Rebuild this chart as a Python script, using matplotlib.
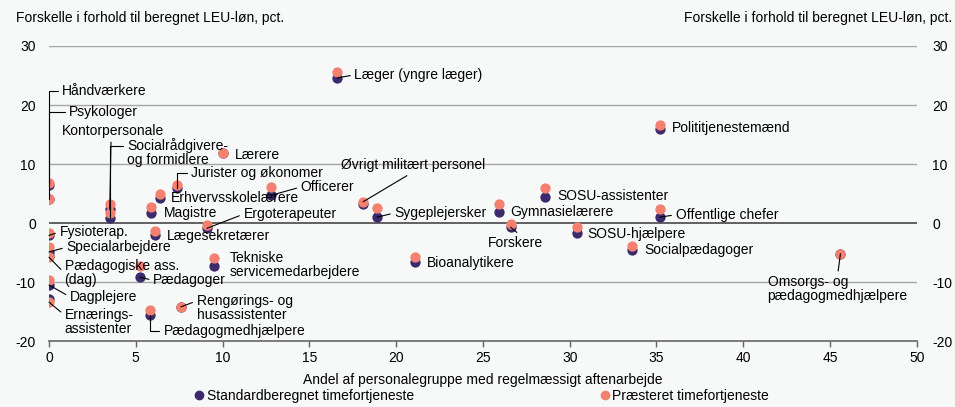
import matplotlib
matplotlib.use("Agg")
import matplotlib.pyplot as plt
from matplotlib.lines import Line2D

plt.rcParams['font.family'] = ['Liberation Sans', 'DejaVu Sans']
plt.rcParams['font.size'] = 10
plt.rcParams['axes.unicode_minus'] = False

# data: andel med aftenarbejde (x), forskel standardberegnet / praesteret (y)
groups = ["Håndværkere", "Psykologer", "Kontorpersonale", "Socialrådgivere-\nog formidlere",
          "Lærere", "Jurister og økonomer", "Officerer", "Erhvervsskolelærere", "Magistre",
          "Ergoterapeuter", "Lægesekretærer", "Fysioterap.", "Specialarbejdere",
          "Pædagogiske ass.\n(dag)", "Pædagoger", "Dagplejere", "Ernærings-\nassistenter",
          "Rengørings- og\nhusassistenter", "Pædagogmedhjælpere", "Tekniske\nservicemedarbejdere",
          "Læger (yngre læger)", "Øvrigt militært personel", "Sygeplejersker", "Gymnasielærere",
          "SOSU-assistenter", "Forskere", "SOSU-hjælpere", "Bioanalytikere",
          "Polititjenestemænd", "Offentlige chefer", "Socialpædagoger",
          "Omsorgs- og\npædagogmedhjælpere"]
aften = [0.0, 0.0, 3.5, 3.5, 10.0, 7.4, 12.8, 6.4, 5.9, 9.1, 6.1, 0.0, 0.0, 0.0, 5.25, 0.0, 0.0,
         7.6, 5.8, 9.5, 16.6, 18.1, 18.9, 25.9, 28.6, 26.6, 30.4, 21.1, 35.2, 35.2, 33.6, 45.6]
standard = [6.4, 4.1, 2.3, 0.8, 11.8, 5.9, 4.7, 4.2, 1.7, -0.9, -2.1, -2.1, -4.9, -5.6, -9.2,
            -10.5, -12.9, -14.2, -15.5, -7.3, 24.6, 3.3, 1.0, 1.9, 4.4, -0.7, -1.7, -6.6,
            15.9, 1.0, -4.6, -5.2]
praesteret = [6.8, 4.0, 3.3, 1.7, 11.8, 6.5, 6.1, 5.0, 2.7, -0.4, -1.4, -1.7, -4.0, -5.8, -7.3,
              -9.7, -13.4, -14.2, -14.8, -6.0, 25.6, 3.6, 2.5, 3.2, 6.0, -0.2, -0.7, -5.8,
              16.6, 2.4, -3.9, -5.2]

xticks = list(range(0, 51, 5))
yticks = [-20, -10, 0, 10, 20, 30]

PURPLE = "#3b2b6c"
SALMON = "#f4816f"
BG = "#f7f9f9"

# label placement: (text x, text y, leader type, relpos, which point)
layout = {
    "Håndværkere": (0.75, 22.3, "elbow", (0, 0.5), "s"),
    "Psykologer": (1.15, 18.8, "elbow", (0, 0.5), "s"),
    "Kontorpersonale": (0.75, 15.6, "line", (0.48, 0), "s"),
    "Socialrådgivere-\nog formidlere": (4.5, 11.9, "elbow", (0, 0.75), "s"),
    "Lærere": (10.7, 11.5, None, None, None),
    "Jurister og økonomer": (8.2, 8.5, "elbow", (0, 0.5), "s"),
    "Officerer": (14.5, 6.1, "line", (0, 0.5), "s"),
    "Erhvervsskolelærere": (7.0, 4.2, None, None, None),
    "Magistre": (6.6, 1.7, None, None, None),
    "Ergoterapeuter": (11.2, 1.5, "line", (0, 0.5), "s"),
    "Lægesekretærer": (6.8, -2.2, None, None, None),
    "Fysioterap.": (0.6, -1.5, "line", (0, 0.5), "s"),
    "Specialarbejdere": (1.0, -4.1, "line", (0, 0.5), "s"),
    "Pædagogiske ass.\n(dag)": (0.9, -8.5, "line", (0, 0.5), "p"),
    "Pædagoger": (6.0, -9.7, "line", (0, 0.5), "s"),
    "Dagplejere": (1.2, -12.5, "line", (0, 0.5), "s"),
    "Ernærings-\nassistenter": (0.9, -16.8, "line", (0, 0.75), "p"),
    "Rengørings- og\nhusassistenter": (8.5, -14.4, "line", (0, 0.75), "p"),
    "Pædagogmedhjælpere": (6.6, -18.3, "elbow", (0, 0.5), "s"),
    "Tekniske\nservicemedarbejdere": (10.4, -7.1, None, None, None),
    "Læger (yngre læger)": (17.6, 25.1, "line", (0, 0.5), "s"),
    "Øvrigt militært personel": (16.8, 9.8, "line", (0.5, 0), "p"),
    "Sygeplejersker": (19.9, 1.7, "line", (0, 0.5), "s"),
    "Gymnasielærere": (26.6, 1.9, None, None, None),
    "SOSU-assistenter": (29.3, 4.6, None, None, None),
    "Forskere": (25.3, -3.4, "line", (0.6, 1), "s"),
    "SOSU-hjælpere": (31.0, -1.9, None, None, None),
    "Bioanalytikere": (21.8, -6.8, None, None, None),
    "Polititjenestemænd": (35.9, 16.1, None, None, None),
    "Offentlige chefer": (36.1, 1.4, "line", (0, 0.5), "s"),
    "Socialpædagoger": (34.3, -4.6, None, None, None),
    "Omsorgs- og\npædagogmedhjælpere": (41.4, -11.2, "line", (0.5, 1), "p"),
}

fig = plt.figure(figsize=(9.55, 4.07), dpi=100, facecolor=BG)
ax = fig.add_axes([0.0513, 0.162, 0.9087, 0.725], facecolor=BG)

ax.set_xlim(0, 50)
ax.set_ylim(-20, 30)
ax.set_xticks(xticks)
ax.set_yticks(yticks)
for y in yticks:
    if y == 0:
        ax.axhline(y, color="#555555", lw=1.3, zorder=1)
    elif y != -20:
        ax.axhline(y, color="#a6a6a6", lw=1.0, zorder=1)

for s in ["top", "left", "right"]:
    ax.spines[s].set_visible(False)
ax.spines["bottom"].set_color("#666666")
ax.spines["bottom"].set_linewidth(1.2)
ax.tick_params(axis="x", length=4, color="#666666", width=1.0, pad=3, labelsize=10)
ax.tick_params(axis="y", length=0, pad=9.5, labelsize=10)

# right-hand copy of the y axis
ax2 = ax.twinx()
ax2.set_ylim(ax.get_ylim())
ax2.set_yticks(yticks)
ax2.tick_params(axis="y", length=0, pad=11, labelsize=10)
for s in ax2.spines.values():
    s.set_visible(False)

ax.scatter(aften, standard, s=55, color=PURPLE, zorder=3, linewidths=0)
ax.scatter(aften, praesteret, s=55, color=SALMON, zorder=4, linewidths=0)

for name, xv, sv, pv in zip(groups, aften, standard, praesteret):
    tx, ty, kind, rel, which = layout[name]
    if kind is None:
        ax.text(tx, ty, name, ha="left", va="center", fontsize=10, zorder=5, linespacing=1.0)
        continue
    py = sv if which == "s" else pv
    conn = "angle,angleA=0,angleB=90,rad=0" if kind == "elbow" else "arc3"
    ax.annotate(name, xy=(xv, py), xytext=(tx, ty), ha="left", va="center", fontsize=10,
                linespacing=1.0, zorder=5,
                arrowprops=dict(arrowstyle="-", color="black", lw=0.8, shrinkA=1, shrinkB=0,
                                relpos=rel, connectionstyle=conn))

ax.set_xlabel("Andel af personalegruppe med regelmæssigt aftenarbejde", fontsize=10, labelpad=6)

fig.text(0.0168, 0.956, "Forskelle i forhold til beregnet LEU-løn, pct.", ha="left", va="center", fontsize=10)
fig.text(0.997, 0.956, "Forskelle i forhold til beregnet LEU-løn, pct.", ha="right", va="center", fontsize=10)

handles = [Line2D([], [], marker="o", ls="", color=PURPLE, markersize=6),
           Line2D([], [], marker="o", ls="", color=SALMON, markersize=6)]
fig.legend(handles, ["Standardberegnet timefortjeneste", "Præsteret timefortjeneste"],
           loc="center", bbox_to_anchor=(0.505, 0.027), ncol=2, frameon=False, fontsize=10,
           handlelength=0.5, handletextpad=0.3, columnspacing=13.5, borderaxespad=0)

fig.savefig("out.png", dpi=100, facecolor=BG)
